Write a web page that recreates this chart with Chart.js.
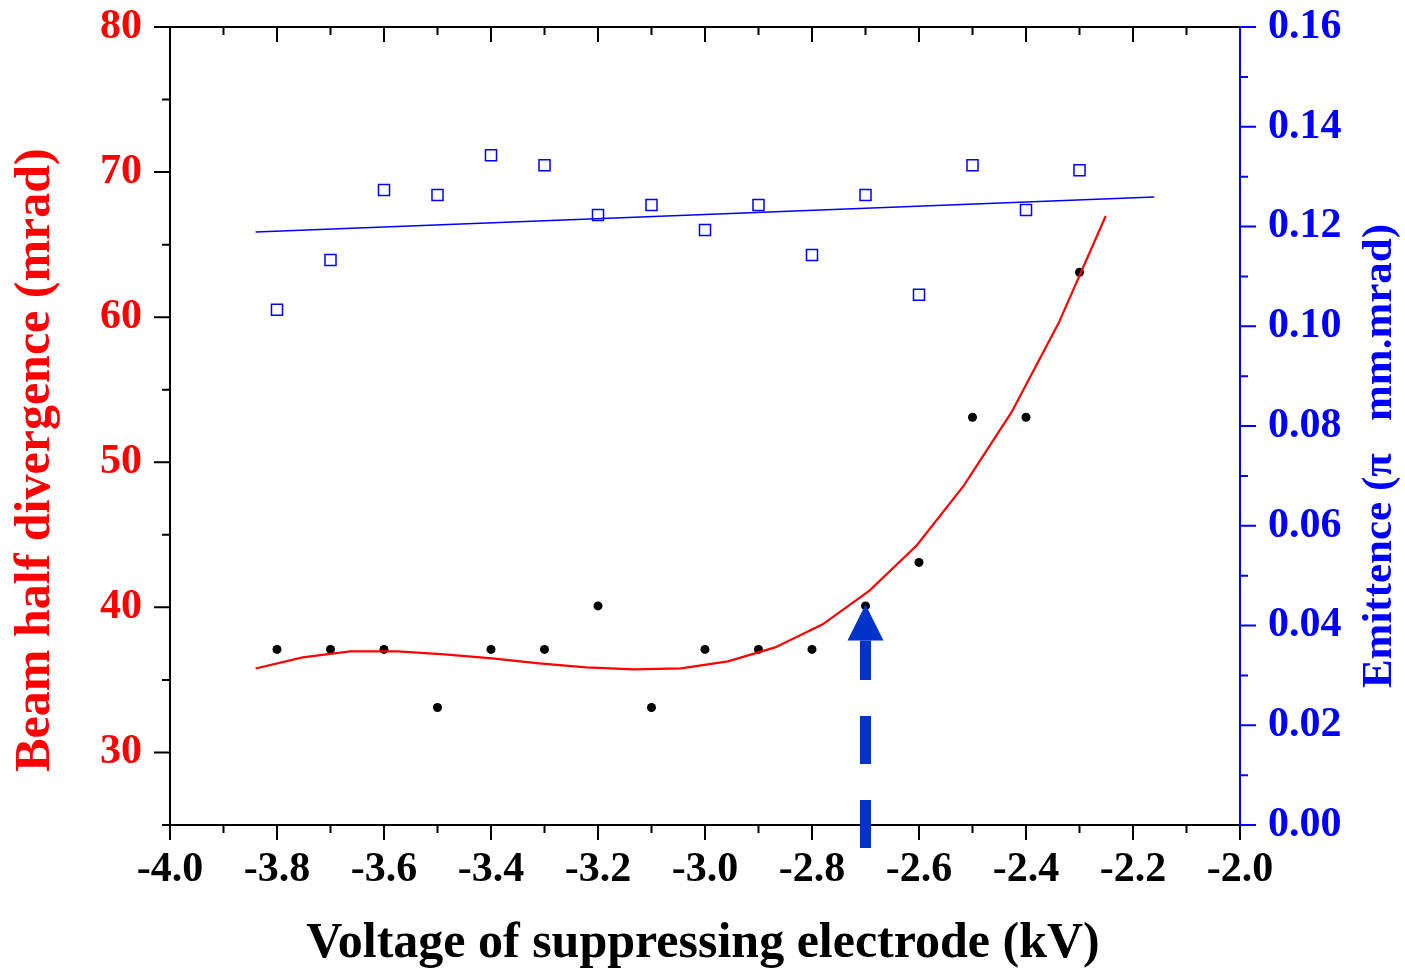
<!DOCTYPE html>
<html>
<head>
<meta charset="utf-8">
<script src="https://cdn.jsdelivr.net/npm/chart.js@4.4.0/dist/chart.umd.min.js"></script>
<style>
  html, body { margin: 0; padding: 0; background: #fff; }
  #chart { display: block; }
</style>
</head>
<body>
<canvas id="chart" width="1405" height="974"></canvas>
<script>
// 抑制极电压 (kV)
const voltage = [-3.8, -3.7, -3.6, -3.5, -3.4, -3.3, -3.2, -3.1, -3.0, -2.9, -2.8, -2.7, -2.6, -2.5, -2.4, -2.3];
// 束流半发散角 (mrad)
const halfDivergence = [37.1, 37.1, 37.1, 33.1, 37.1, 37.1, 40.1, 33.1, 37.1, 37.1, 37.1, 40.1, 43.1, 53.1, 53.1, 63.1];
// 发射度 (π mm.mrad)
const emittance = [0.1033, 0.1133, 0.1273, 0.1263, 0.1343, 0.1323, 0.1223, 0.1243, 0.1193, 0.1243, 0.1143, 0.1263, 0.1063, 0.1323, 0.1233, 0.1313];

// 发散角拟合曲线（折线顶点）
const divFitX = [-3.840, -3.752, -3.663, -3.575, -3.487, -3.398, -3.310, -3.222, -3.133, -3.045,
                 -2.957, -2.869, -2.780, -2.692, -2.604, -2.516, -2.427, -2.339, -2.251];
const divFitY = [35.79, 36.55, 36.97, 36.97, 36.76, 36.48, 36.14, 35.86, 35.72, 35.79,
                 36.28, 37.24, 38.83, 41.17, 44.28, 48.41, 53.45, 59.59, 66.97];
// 发射度线性拟合
const emitFitX = [-3.84, -2.16];
const emitFitY = [0.1189, 0.1259];

// 刻度
const xTicks = [-4.0, -3.8, -3.6, -3.4, -3.2, -3.0, -2.8, -2.6, -2.4, -2.2, -2.0];
const leftTicks = [30, 40, 50, 60, 70, 80];
const rightTicks = [0, 0.02, 0.04, 0.06, 0.08, 0.10, 0.12, 0.14, 0.16];

// 箭头指向 -2.7 kV
const arrowX = -2.7;
const arrowTip = 40.2;

const xTitle = 'Voltage of suppressing electrode (kV)';
const leftTitle = 'Beam half divergence (mrad)';
const rightTitle = 'Emittence (\u03c0   mm.mrad)';

const FONT = "'Liberation Serif', 'Times New Roman', serif";
const BLUE = '#0000ff';
const RED = '#ff0000';

const pts = (xs, ys) => xs.map((v, i) => ({ x: v, y: ys[i] }));

// 次刻度取主刻度中点
function minorOf(major, min) {
  const step = major[1] - major[0];
  return major.map(v => v - step / 2).filter(v => v >= min - 1e-9);
}

// 坐标轴、刻度线、标题和箭头
const frame = {
  id: 'frame',
  afterDatasetsDraw(chart) {
    const { ctx, chartArea: a, scales: { x, y, y1 } } = chart;
    ctx.save();
    ctx.lineCap = 'butt';
    ctx.lineWidth = 2;

    // 黑色边框：左、下、上
    ctx.strokeStyle = '#000';
    ctx.beginPath();
    ctx.moveTo(a.left, a.top); ctx.lineTo(a.left, a.bottom);
    ctx.moveTo(a.left, a.bottom); ctx.lineTo(a.right, a.bottom);
    ctx.moveTo(a.left, a.top); ctx.lineTo(a.right, a.top);
    // 下轴刻度朝外，上轴刻度朝内
    xTicks.forEach(v => {
      const p = x.getPixelForValue(v);
      ctx.moveTo(p, a.bottom); ctx.lineTo(p, a.bottom + 15);
      ctx.moveTo(p, a.top); ctx.lineTo(p, a.top + 15);
    });
    minorOf(xTicks, x.min).forEach(v => {
      const p = x.getPixelForValue(v);
      ctx.moveTo(p, a.bottom); ctx.lineTo(p, a.bottom + 8);
      ctx.moveTo(p, a.top); ctx.lineTo(p, a.top + 8);
    });
    // 左轴
    leftTicks.forEach(v => {
      const p = y.getPixelForValue(v);
      ctx.moveTo(a.left, p); ctx.lineTo(a.left - 16, p);
    });
    minorOf(leftTicks, y.min).forEach(v => {
      const p = y.getPixelForValue(v);
      ctx.moveTo(a.left, p); ctx.lineTo(a.left - 8, p);
    });
    ctx.stroke();

    // 蓝色右轴
    ctx.strokeStyle = BLUE;
    ctx.beginPath();
    ctx.moveTo(a.right, a.top - 1); ctx.lineTo(a.right, a.bottom + 1);
    rightTicks.forEach(v => {
      const p = y1.getPixelForValue(v);
      ctx.moveTo(a.right, p); ctx.lineTo(a.right + 16, p);
    });
    minorOf(rightTicks, y1.min).forEach(v => {
      const p = y1.getPixelForValue(v);
      ctx.moveTo(a.right, p); ctx.lineTo(a.right + 8, p);
    });
    ctx.stroke();

    // 虚线箭头
    const ax = x.getPixelForValue(arrowX);
    const tipY = y.getPixelForValue(arrowTip);
    const baseY = tipY + 36;
    ctx.strokeStyle = '#0033cc';
    ctx.fillStyle = '#0033cc';
    ctx.lineWidth = 11;
    ctx.setLineDash([48, 36]);
    ctx.beginPath();
    ctx.moveTo(ax, a.bottom + 23);
    ctx.lineTo(ax, baseY);
    ctx.stroke();
    ctx.setLineDash([]);
    ctx.beginPath();
    ctx.moveTo(ax, tipY);
    ctx.lineTo(ax - 18, baseY);
    ctx.lineTo(ax + 18, baseY);
    ctx.closePath();
    ctx.fill();

    // 轴标题
    ctx.textAlign = 'center';
    ctx.textBaseline = 'middle';
    ctx.fillStyle = '#000';
    ctx.font = 'bold 50px ' + FONT;
    ctx.fillText(xTitle, 703, 944);

    ctx.save();
    ctx.translate(36, 460);
    ctx.rotate(-Math.PI / 2);
    ctx.fillStyle = RED;
    ctx.font = 'bold 50px ' + FONT;
    ctx.fillText(leftTitle, 0, 0);
    ctx.restore();

    ctx.save();
    ctx.translate(1380, 456);
    ctx.rotate(-Math.PI / 2);
    ctx.fillStyle = BLUE;
    ctx.font = 'bold 43px ' + FONT;
    ctx.fillText(rightTitle, 0, 0);
    ctx.restore();

    ctx.restore();
  }
};

const tickFont = { family: FONT, size: 42, weight: 'bold' };

// 纵轴两端不再额外留出标签空间
const fixVertical = w => s => { s.width = w; s.paddingTop = 0; s.paddingBottom = 0; };

new Chart(document.getElementById('chart'), {
  type: 'scatter',
  data: {
    datasets: [
      {
        label: 'Emittence fit',
        type: 'line',
        data: pts(emitFitX, emitFitY),
        yAxisID: 'y1',
        borderColor: BLUE,
        borderWidth: 1.5,
        pointRadius: 0,
        fill: false
      },
      {
        label: 'Emittence',
        data: pts(voltage, emittance),
        yAxisID: 'y1',
        pointStyle: 'rect',
        pointRadius: 7.8,
        pointBackgroundColor: '#fff',
        pointBorderColor: BLUE,
        pointBorderWidth: 1.5
      },
      {
        label: 'Divergence fit',
        type: 'line',
        data: pts(divFitX, divFitY),
        yAxisID: 'y',
        borderColor: RED,
        borderWidth: 2.2,
        pointRadius: 0,
        tension: 0,
        fill: false
      },
      {
        label: 'Beam half divergence',
        data: pts(voltage, halfDivergence),
        yAxisID: 'y',
        pointStyle: 'circle',
        pointRadius: 4.5,
        pointBackgroundColor: '#000',
        pointBorderColor: '#000',
        pointBorderWidth: 0
      }
    ]
  },
  options: {
    responsive: false,
    animation: false,
    layout: { padding: { top: 27, left: 0, right: 0, bottom: 0 } },
    plugins: {
      legend: { display: false },
      tooltip: { enabled: false }
    },
    scales: {
      x: {
        type: 'linear',
        position: 'bottom',
        min: -4,
        max: -2,
        afterBuildTicks: s => { s.ticks = xTicks.map(v => ({ value: v })); },
        afterFit: s => { s.height = 149; s.paddingLeft = 0; s.paddingRight = 0; },
        grid: { display: false, drawTicks: false },
        border: { display: false },
        ticks: {
          font: tickFont,
          color: '#000',
          padding: 20,
          maxRotation: 0,
          autoSkip: false,
          callback: v => v.toFixed(1)
        }
      },
      y: {
        type: 'linear',
        position: 'left',
        min: 25,
        max: 80,
        afterBuildTicks: s => { s.ticks = leftTicks.map(v => ({ value: v })); },
        afterFit: fixVertical(170),
        grid: { display: false, drawTicks: false },
        border: { display: false },
        ticks: {
          font: tickFont,
          color: RED,
          padding: 28,
          callback: v => String(v)
        }
      },
      y1: {
        type: 'linear',
        position: 'right',
        min: 0,
        max: 0.16,
        afterBuildTicks: s => { s.ticks = rightTicks.map(v => ({ value: v })); },
        afterFit: fixVertical(165),
        grid: { display: false, drawTicks: false },
        border: { display: false },
        ticks: {
          font: tickFont,
          color: BLUE,
          padding: 28,
          callback: v => v.toFixed(2)
        }
      }
    }
  },
  plugins: [frame]
});
</script>
</body>
</html>
